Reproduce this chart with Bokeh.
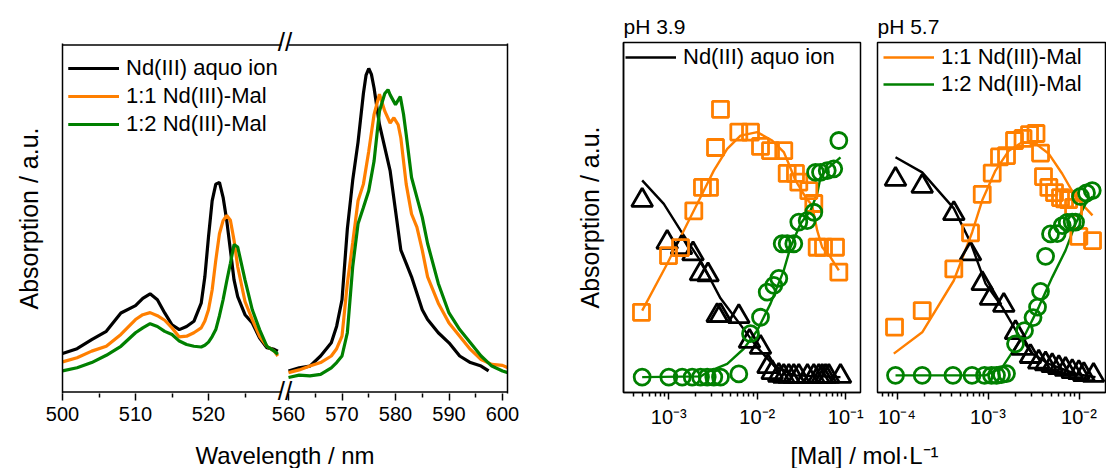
from bokeh.plotting import figure
from bokeh.models import (Range1d, LinearAxis, FixedTicker, CustomJSTickFormatter,
                          Legend, LegendItem, Label)
from bokeh.layouts import row, column
from bokeh.embed import file_html
from bokeh.resources import INLINE

FONT = "Liberation Sans"
C_BLACK = "#000000"
C_ORANGE = "#FF7F00"
C_GREEN = "#008000"

# ---------------- Left panel: spectra (broken wavelength axis) ----------------
WL_SEG1 = [500, 502, 504, 506, 508, 510, 511, 512, 513, 514, 515, 516, 517, 518, 519, 519.5,
           520, 520.5, 521, 521.5, 522, 522.5, 523, 523.5, 524, 525, 526, 527, 528, 529, 529.5]
AQUO_SEG1 = [0.111, 0.125, 0.151, 0.175, 0.228, 0.249, 0.270, 0.283, 0.266, 0.228, 0.194, 0.180,
             0.189, 0.204, 0.256, 0.332, 0.447, 0.551, 0.599, 0.604, 0.561, 0.494, 0.409, 0.323,
             0.275, 0.223, 0.199, 0.156, 0.128, 0.123, 0.118]
ML1_SEG1 = [0.087, 0.099, 0.118, 0.132, 0.166, 0.209, 0.223, 0.229, 0.220, 0.207, 0.185, 0.159,
            0.161, 0.171, 0.185, 0.205, 0.237, 0.294, 0.380, 0.456, 0.494, 0.509, 0.495, 0.437,
            0.361, 0.261, 0.209, 0.161, 0.132, 0.118, 0.104]
ML2_SEG1 = [0.061, 0.070, 0.085, 0.106, 0.132, 0.171, 0.185, 0.197, 0.189, 0.175, 0.166, 0.147,
            0.137, 0.132, 0.130, 0.135, 0.144, 0.160, 0.180, 0.220, 0.266, 0.320, 0.371, 0.425,
            0.418, 0.323, 0.237, 0.180, 0.132, 0.118, 0.109]

AQUO_WL2 = [560, 562, 564, 566, 568, 569, 570, 571, 572, 573, 574, 574.5, 575, 575.5, 576, 577,
            578, 579, 580, 581, 582, 583, 584, 585, 586, 588, 590, 592, 594, 596, 597.4]
AQUO_SEG2 = [0.061, 0.070, 0.075, 0.104, 0.142, 0.190, 0.266, 0.470, 0.610, 0.720, 0.860, 0.913,
             0.932, 0.915, 0.875, 0.771, 0.704, 0.637, 0.523, 0.409, 0.371, 0.332, 0.285, 0.237,
             0.209, 0.171, 0.142, 0.104, 0.085, 0.075, 0.061]
ML1_WL2 = [560, 562, 564, 566, 568, 569, 570, 571, 572, 573, 574, 575, 576, 577, 578, 579, 579.7,
           580.5, 581, 582, 583, 584, 585, 586, 588, 590, 592, 594, 596, 598, 600, 601]
ML1_SEG2 = [0.056, 0.064, 0.075, 0.085, 0.104, 0.125, 0.161, 0.313, 0.430, 0.551, 0.599, 0.694,
            0.800, 0.858, 0.809, 0.775, 0.790, 0.770, 0.732, 0.599, 0.513, 0.475, 0.409, 0.332,
            0.256, 0.199, 0.161, 0.123, 0.094, 0.080, 0.077, 0.070]
ML2_WL2 = [560, 562, 564, 566, 568, 569, 570, 571, 572, 573, 574, 575, 576, 577, 578, 578.6, 579,
           580, 580.9, 581.5, 582, 583, 584, 585, 586, 588, 590, 592, 594, 596, 598, 600, 601]
ML2_SEG2 = [0.042, 0.049, 0.047, 0.051, 0.070, 0.085, 0.104, 0.171, 0.361, 0.485, 0.532, 0.580,
            0.666, 0.809, 0.860, 0.871, 0.856, 0.828, 0.851, 0.800, 0.742, 0.618, 0.561, 0.504,
            0.428, 0.313, 0.228, 0.180, 0.142, 0.104, 0.075, 0.061, 0.056]

SEG1_MAJOR = [500, 510, 520]
SEG1_MINOR = [505, 515, 525]
SEG2_MAJOR = [560, 570, 580, 590, 600]
SEG2_MINOR = [565, 575, 585, 595]
SEG1_END = 530      # last wavelength of the first axis segment
SEG2_START = 560    # first wavelength of the second axis segment

LEGEND_LABELS = ["Nd(III) aquo ion", "1:1 Nd(III)-Mal", "1:2 Nd(III)-Mal"]

# ---------------- Right panels: speciation vs [Mal] ----------------
# pH 3.9
C_TRI_X = [5.0e-4, 9.59e-4, 1.392e-3, 1.877e-3, 2.282e-3, 2.773e-3, 3.523e-3, 3.838e-3, 6.18e-3,
           8.16e-3, 1.087e-2, 1.321e-2, 1.473e-2, 1.749e-2, 1.991e-2, 2.270e-2, 2.584e-2, 2.944e-2,
           3.69e-2, 4.35e-2, 4.95e-2, 5.41e-2, 5.90e-2, 6.43e-2, 8.71e-2]
C_TRI_Y = [0.549, 0.429, 0.414, 0.396, 0.339, 0.336, 0.220, 0.220, 0.217, 0.146, 0.129, 0.074,
           0.057, 0.049, 0.046, 0.046, 0.046, 0.046, 0.046, 0.046, 0.046, 0.046, 0.046, 0.046, 0.046]
C_FIT_AQ_X = [5.0e-4, 8.78e-4, 1.356e-3, 2.384e-3, 3.838e-3, 5.93e-3, 9.97e-3, 1.536e-2, 2.584e-2, 8.71e-2]
C_FIT_AQ_Y = [0.606, 0.539, 0.463, 0.368, 0.269, 0.206, 0.129, 0.077, 0.049, 0.044]

C_SQ_X = [4.91e-4, 9.92e-4, 1.356e-3, 1.916e-3, 2.40e-3, 2.884e-3, 3.37e-3, 3.838e-3, 6.18e-3,
          8.38e-3, 1.087e-2, 1.41e-2, 1.991e-2, 2.177e-2, 2.70e-2, 2.944e-2, 3.82e-2, 4.35e-2,
          4.75e-2, 5.60e-2, 7.65e-2, 8.34e-2]
C_SQ_Y = [0.229, 0.391, 0.414, 0.519, 0.586, 0.586, 0.700, 0.809, 0.744, 0.744, 0.703, 0.691,
          0.691, 0.626, 0.626, 0.601, 0.577, 0.540, 0.415, 0.415, 0.415, 0.344]
C_FIT_ML1_X = [5.0e-4, 9.59e-4, 1.614e-3, 2.282e-3, 3.224e-3, 4.57e-3, 6.46e-3, 9.97e-3, 1.473e-2,
               1.991e-2, 2.270e-2, 2.70e-2, 3.51e-2, 4.17e-2, 4.75e-2, 5.41e-2, 6.71e-2, 8.34e-2]
C_FIT_ML1_Y = [0.234, 0.368, 0.482, 0.558, 0.634, 0.696, 0.734, 0.744, 0.720, 0.687, 0.653, 0.606,
               0.558, 0.534, 0.463, 0.415, 0.387, 0.349]

C_CIR_X = [5.0e-4, 1.0e-3, 1.417e-3, 1.837e-3, 2.282e-3, 2.716e-3, 3.224e-3, 3.838e-3, 6.18e-3,
           8.38e-3, 1.087e-2, 1.294e-2, 1.536e-2, 1.749e-2, 1.911e-2, 2.177e-2, 2.584e-2, 2.944e-2,
           3.66e-2, 4.35e-2, 4.55e-2, 5.18e-2, 6.17e-2, 7.31e-2, 8.34e-2]
C_CIR_Y = [0.044, 0.044, 0.044, 0.044, 0.044, 0.044, 0.044, 0.044, 0.053, 0.168, 0.215, 0.287,
           0.306, 0.326, 0.425, 0.425, 0.425, 0.487, 0.491, 0.515, 0.629, 0.629, 0.634, 0.639, 0.720]
C_FIT_ML2_X = [5.0e-4, 2.282e-3, 2.716e-3, 4.57e-3, 7.03e-3, 9.97e-3, 1.41e-2, 1.991e-2, 2.371e-2,
               3.076e-2, 3.99e-2, 4.75e-2, 5.18e-2, 6.17e-2, 8.71e-2]
C_FIT_ML2_Y = [0.044, 0.046, 0.058, 0.082, 0.125, 0.177, 0.254, 0.349, 0.415, 0.482, 0.520, 0.568,
               0.615, 0.639, 0.672]

# pH 5.7
D_TRI_X = [9.63e-5, 1.892e-4, 4.21e-4, 6.42e-4, 8.64e-4, 1.065e-3, 1.49e-3, 2.005e-3, 2.375e-3,
           2.93e-3, 3.61e-3, 4.29e-3, 5.07e-3, 6.0e-3, 7.11e-3, 8.42e-3, 9.95e-3, 1.13e-2, 1.443e-2]
D_TRI_Y = [0.609, 0.589, 0.511, 0.396, 0.311, 0.269, 0.249, 0.171, 0.126, 0.103, 0.087, 0.082,
           0.077, 0.071, 0.066, 0.060, 0.057, 0.051, 0.049]
D_FIT_AQ_X = [9.63e-5, 1.892e-4, 4.21e-4, 6.42e-4, 9.39e-4, 1.432e-3, 2.178e-3, 3.06e-3, 4.66e-3,
              9.16e-3, 1.518e-2]
D_FIT_AQ_Y = [0.672, 0.629, 0.526, 0.429, 0.311, 0.244, 0.163, 0.111, 0.082, 0.053, 0.044]

D_SQ_X = [9.39e-5, 1.892e-4, 4.21e-4, 6.42e-4, 8.64e-4, 1.112e-3, 1.337e-3, 1.597e-3, 1.955e-3,
          2.425e-3, 2.858e-3, 3.367e-3, 3.776e-3, 4.07e-3, 4.66e-3, 5.38e-3, 6.26e-3, 6.93e-3,
          7.67e-3, 8.71e-3, 9.95e-3, 1.407e-2]
D_SQ_Y = [0.187, 0.234, 0.353, 0.456, 0.566, 0.627, 0.673, 0.677, 0.720, 0.726, 0.737, 0.740,
          0.684, 0.617, 0.586, 0.571, 0.557, 0.553, 0.551, 0.529, 0.446, 0.434]
D_FIT_ML1_X = [9.22e-5, 1.892e-4, 4.21e-4, 6.70e-4, 8.64e-4, 1.208e-3, 1.693e-3, 2.375e-3, 3.33e-3,
               4.66e-3, 6.54e-3, 9.16e-3, 1.407e-2]
D_FIT_ML1_Y = [0.111, 0.172, 0.320, 0.458, 0.549, 0.634, 0.691, 0.715, 0.711, 0.682, 0.625, 0.558, 0.506]

D_CIR_X = [9.63e-5, 1.892e-4, 4.12e-4, 6.67e-4, 9.15e-4, 1.092e-3, 1.24e-3, 1.406e-3, 1.597e-3,
           2.005e-3, 2.518e-3, 3.123e-3, 3.50e-3, 3.776e-3, 4.29e-3, 4.86e-3, 5.76e-3, 6.54e-3,
           7.42e-3, 8.42e-3, 9.16e-3, 1.038e-2, 1.208e-2, 1.397e-2]
D_CIR_Y = [0.049, 0.049, 0.049, 0.049, 0.049, 0.049, 0.049, 0.051, 0.054, 0.139, 0.177, 0.214,
           0.244, 0.289, 0.389, 0.453, 0.454, 0.477, 0.486, 0.487, 0.487, 0.560, 0.570, 0.577]
D_FIT_ML2_X = [9.63e-5, 9.39e-4, 1.432e-3, 2.005e-3, 2.583e-3, 3.61e-3, 5.07e-3, 7.11e-3, 9.16e-3,
               1.178e-2, 1.407e-2]
D_FIT_ML2_Y = [0.049, 0.049, 0.072, 0.129, 0.168, 0.244, 0.329, 0.406, 0.482, 0.539, 0.560]

LOG_DECADES = [1e-5, 1e-4, 1e-3, 1e-2, 1e-1]
LOG_MINOR = [m * d for d in LOG_DECADES for m in range(2, 10)]


# ---------------- helpers ----------------
def style_axis(ax, tick_size="20px", label_size="24px"):
    ax.axis_line_color = "black"
    ax.axis_line_width = 1.5
    ax.major_tick_line_color = "black"
    ax.minor_tick_line_color = "black"
    ax.major_tick_line_width = 1.5
    ax.minor_tick_line_width = 1.5
    ax.major_tick_in = 0
    ax.major_tick_out = 7
    ax.minor_tick_in = 0
    ax.minor_tick_out = 4
    ax.major_label_standoff = 5
    ax.major_label_text_font = FONT
    ax.major_label_text_font_size = tick_size
    ax.major_label_text_color = "black"
    ax.axis_label_text_font = FONT
    ax.axis_label_text_font_size = label_size
    ax.axis_label_text_font_style = "normal"
    ax.axis_label_text_color = "black"


def blank_axis(ax, tick_at):
    # an axis that shows only its line (used for frame borders / rotated label)
    style_axis(ax)
    ax.ticker = FixedTicker(ticks=[tick_at], minor_ticks=[])
    ax.major_tick_line_color = None
    ax.minor_tick_line_color = None
    ax.major_tick_out = 0
    ax.minor_tick_out = 0
    ax.major_label_standoff = 0
    ax.major_label_text_font_size = "0px"
    ax.formatter = CustomJSTickFormatter(code="return '';")


def log_formatter():
    return CustomJSTickFormatter(code="""
        const sup = {"-": "\\u207B", "0": "\\u2070", "1": "\\u00B9", "2": "\\u00B2", "3": "\\u00B3",
                     "4": "\\u2074", "5": "\\u2075", "6": "\\u2076", "7": "\\u2077", "8": "\\u2078", "9": "\\u2079"};
        const e = Math.round(Math.log10(tick));
        return "10" + String(e).split("").map(c => sup[c]).join("");
    """)


ITEM_H = 26


def legend_for(items, loc, spacing):
    # loc = (offset from frame left, offset of legend bottom from frame bottom)
    return Legend(items=items, location=loc, margin=0, padding=0, spacing=spacing,
                  glyph_width=51, glyph_height=ITEM_H, label_height=ITEM_H, label_standoff=7,
                  label_text_font=FONT, label_text_font_size="22px", label_text_color="black",
                  border_line_color=None, background_fill_alpha=0)


def caption(width, x, text):
    # a thin strip below plots that carries an axis title spanning several frames
    p = figure(width=width, height=36, x_axis_type=None, y_axis_type=None, x_range=Range1d(0, 1),
               y_range=Range1d(0, 1), output_backend="svg", toolbar_location=None, min_border=0)
    p.outline_line_color = None
    p.grid.visible = False
    p.add_layout(Label(x=x, y=13, x_units="screen", y_units="screen", text=text,
                       text_align="center", text_baseline="middle", text_font=FONT,
                       text_font_size="24px", text_color="black"))
    return p


# ---------------- left panel ----------------
FRAME_W_A = 445
FRAME_H = 350
PX_NM1 = 7.3
PX_NM2 = 5.35
SEG2_OFFSET = 226
PAD = 0.004
X1 = Range1d(500, 500 + FRAME_W_A / PX_NM1)
X2 = Range1d(SEG2_START - SEG2_OFFSET / PX_NM2, SEG2_START - SEG2_OFFSET / PX_NM2 + FRAME_W_A / PX_NM2)
RATIO = (X1.end - X1.start) / (X2.end - X2.start)


def to_primary(w):
    return X1.start + (w - X2.start) * RATIO


BREAK = (SEG1_END + to_primary(SEG2_START)) / 2

pA = figure(width=530, height=432, x_range=X1, y_range=Range1d(-PAD, 1 + PAD),
            output_backend="svg", toolbar_location=None,
            min_border_left=62, min_border_right=23, min_border_top=43, min_border_bottom=39)
pA.outline_line_color = None
pA.background_fill_color = "white"
pA.extra_x_ranges = {"seg2": X2}
pA.grid.visible = False

BREAK_MARK = "//"

xa = pA.xaxis[0]
style_axis(xa)
xa.axis_line_color = None
xa.ticker = FixedTicker(ticks=SEG1_MAJOR + [to_primary(w) for w in SEG2_MAJOR],
                        minor_ticks=SEG1_MINOR + [to_primary(w) for w in SEG2_MINOR])
xa.formatter = CustomJSTickFormatter(args=dict(a1=X1.start, a2=X2.start, r=RATIO, brk=BREAK), code="""
    if (tick < brk) { return tick.toFixed(0); }
    return (a2 + (tick - a1) / r).toFixed(0);
""")
xa.major_label_standoff = 6
# the break mark sits on the broken axis line (axis title is centred on the frame = on the break)
xa.axis_label = BREAK_MARK
xa.axis_label_text_font_size = "26px"
xa.axis_label_text_line_height = 1.0
xa.axis_label_standoff = -48

ya = pA.yaxis[0]
blank_axis(ya, 0.5)
ya.axis_label = "Absorption / a.u."
ya.axis_label_text_font_size = "25px"
ya.axis_label_standoff = 20

top_ax = LinearAxis()
blank_axis(top_ax, 520)
top_ax.axis_line_color = None
top_ax.axis_label = BREAK_MARK
top_ax.axis_label_text_font_size = "26px"
top_ax.axis_label_text_line_height = 1.0
top_ax.axis_label_standoff = -13
pA.add_layout(top_ax, "above")
right_ax = LinearAxis()
blank_axis(right_ax, 0.5)
pA.add_layout(right_ax, "right")

# broken frame lines (top and bottom), one piece per axis segment
for yv in (0, 1):
    pA.segment(x0=[X1.start], y0=[yv], x1=[SEG1_END], y1=[yv], line_color="black", line_width=1.5)
    pA.segment(x0=[SEG2_START], y0=[yv], x1=[X2.end], y1=[yv], line_color="black", line_width=1.5,
               x_range_name="seg2")

renderers = []
for (y1, w2, y2, col) in [(AQUO_SEG1, AQUO_WL2, AQUO_SEG2, C_BLACK),
                          (ML1_SEG1, ML1_WL2, ML1_SEG2, C_ORANGE),
                          (ML2_SEG1, ML2_WL2, ML2_SEG2, C_GREEN)]:
    r1 = pA.line(WL_SEG1, y1, line_color=col, line_width=3.2)
    r2 = pA.line(w2, y2, line_color=col, line_width=3.2, x_range_name="seg2")
    renderers.append((r1, r2))

legA_h = 3 * ITEM_H + 2 * 2
legA = legend_for([LegendItem(label=lab, renderers=list(rs)) for lab, rs in zip(LEGEND_LABELS, renderers)],
                  (6, FRAME_H - 12 - legA_h), 2)
pA.add_layout(legA)

# the caption strip's frame is aligned with pA's frame inside the column, so centre on the frame
capA = caption(530, FRAME_W_A / 2, "Wavelength / nm")


# ---------------- right panels ----------------
def make_panel(title, xr, width, mb_left, mb_right, show_y):
    p = figure(width=width, height=432, x_axis_type="log", x_range=xr, y_range=Range1d(0, 1),
               y_axis_type="linear" if show_y else None,
               output_backend="svg", toolbar_location=None, title=title,
               min_border_left=mb_left, min_border_right=mb_right, min_border_top=42, min_border_bottom=40)
    p.grid.visible = False
    p.outline_line_color = "black"
    p.outline_line_width = 1.5
    p.outline_line_alpha = 1
    p.title.text_font = FONT
    p.title.text_font_size = "21px"
    p.title.text_font_style = "normal"
    p.title.text_color = "black"
    p.title.align = "left"
    p.title.standoff = 9
    ax = p.xaxis[0]
    style_axis(ax)
    ax.ticker = FixedTicker(ticks=LOG_DECADES, minor_ticks=LOG_MINOR)
    ax.formatter = log_formatter()
    ax.major_label_standoff = 6
    if show_y:
        y = p.yaxis[0]
        blank_axis(y, 0.5)
        y.axis_label = "Absorption / a.u."
        y.axis_label_text_font_size = "25px"
        y.axis_label_standoff = 20
    return p


def draw_species(p, tri, fit_aq, sq, fit1, cir, fit2):
    la = p.line(fit_aq[0], fit_aq[1], line_color=C_BLACK, line_width=2.4)
    l1 = p.line(fit1[0], fit1[1], line_color=C_ORANGE, line_width=2.4)
    l2 = p.line(fit2[0], fit2[1], line_color=C_GREEN, line_width=2.4)
    p.scatter(tri[0], tri[1], marker="triangle", size=21, fill_color=None,
              line_color=C_BLACK, line_width=2.8)
    p.scatter(sq[0], sq[1], marker="square", size=16, fill_color=None,
              line_color=C_ORANGE, line_width=2.8)
    p.scatter(cir[0], cir[1], marker="circle", size=16, fill_color=None,
              line_color=C_GREEN, line_width=2.8)
    return la, l1, l2


pC = make_panel("pH 3.9", Range1d(3.076e-4, 0.1466), 338, 93, 8, True)
cA, c1, c2 = draw_species(pC, (C_TRI_X, C_TRI_Y), (C_FIT_AQ_X, C_FIT_AQ_Y), (C_SQ_X, C_SQ_Y),
                          (C_FIT_ML1_X, C_FIT_ML1_Y), (C_CIR_X, C_CIR_Y), (C_FIT_ML2_X, C_FIT_ML2_Y))
pC.add_layout(legend_for([LegendItem(label=LEGEND_LABELS[0], renderers=[cA])],
                         (2, FRAME_H - 2 - ITEM_H), 1))

pD = make_panel("pH 5.7", Range1d(6.105e-5, 0.01954), 238, 9, 1, False)
dA, d1, d2 = draw_species(pD, (D_TRI_X, D_TRI_Y), (D_FIT_AQ_X, D_FIT_AQ_Y), (D_SQ_X, D_SQ_Y),
                          (D_FIT_ML1_X, D_FIT_ML1_Y), (D_CIR_X, D_CIR_Y), (D_FIT_ML2_X, D_FIT_ML2_Y))
pD.add_layout(legend_for([LegendItem(label=LEGEND_LABELS[1], renderers=[d1]),
                          LegendItem(label=LEGEND_LABELS[2], renderers=[d2])],
                         (6, FRAME_H - 2 - 2 * ITEM_H - 1), 1))

capR = caption(576, 334, "[Mal] / mol\u00b7L\u207b\u00b9")

layout = row(column(pA, capA), column(row(pC, pD), capR))
open("out.html", "w").write(file_html(layout, INLINE, title="Nd(III) malonate"))
